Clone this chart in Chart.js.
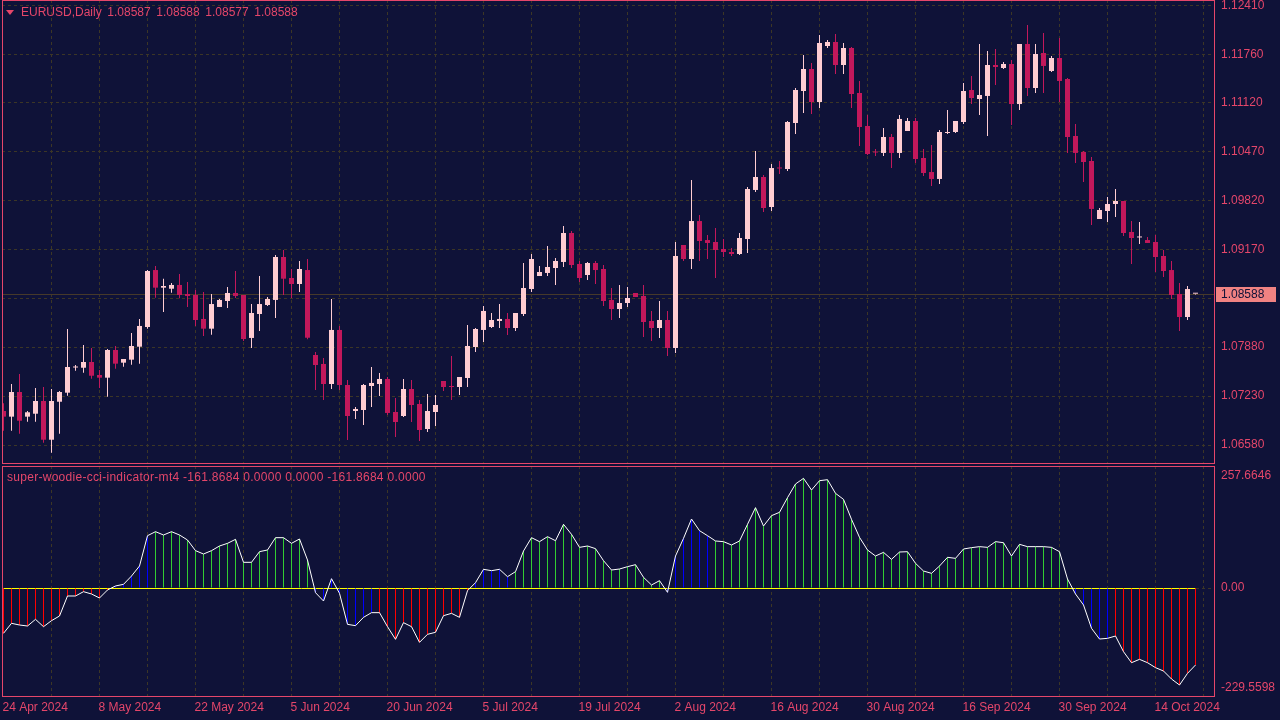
<!DOCTYPE html>
<html>
<head>
<meta charset="utf-8">
<script src="https://cdn.jsdelivr.net/npm/chart.js@4.4.1/dist/chart.umd.min.js"></script>
<style>
  body { margin: 0; width: 1280px; height: 720px; overflow: hidden; position: relative; background: #0f1238;
         font-family: "Liberation Sans", Arial, sans-serif; }
  canvas { position: absolute; left: 0; }
  #main { top: 0; }
  #cci { top: 466px; }
  .txt { position: absolute; color: #e5466a; font-size: 12px; line-height: 14px; white-space: pre; }
  #tri { position: absolute; left: 6px; top: 10px; width: 0; height: 0;
         border-left: 4.5px solid transparent; border-right: 4.5px solid transparent; border-top: 5px solid #e5466a; }
</style>
</head>
<body>
<canvas id="main" width="1280" height="465"></canvas>
<canvas id="cci" width="1280" height="254"></canvas>
<div id="tri"></div>
<div class="txt" style="left:21px;top:5px;word-spacing:2.3px">EURUSD,Daily 1.08587 1.08588 1.08577 1.08588</div>
<div class="txt" style="left:7px;top:470px;letter-spacing:0.28px">super-woodie-cci-indicator-mt4 -161.8684 0.0000 0.0000 -161.8684 0.0000</div>
<script>
// EURUSD daily candles + Woodie CCI sub-window, MT4 look

// ---- data ----
const dateLabels = ['24 Apr 2024', '8 May 2024', '22 May 2024', '5 Jun 2024', '20 Jun 2024', '5 Jul 2024',
  '19 Jul 2024', '2 Aug 2024', '16 Aug 2024', '30 Aug 2024', '16 Sep 2024', '30 Sep 2024', '14 Oct 2024'];
const labelEvery = 12;   // one date label every 12 bars
const gridEvery = 6;     // vertical grid every 6 bars

const opens = [
  1.07031, 1.06956, 1.07283, 1.06956, 1.06995, 1.07164, 1.06650, 1.07154, 1.07274, 1.07608,
  1.07605, 1.07681, 1.07509, 1.07473, 1.07840, 1.07672, 1.07712, 1.07884, 1.08145, 1.08901,
  1.08667, 1.08653, 1.08703, 1.08583, 1.08570, 1.08252, 1.08123, 1.08411, 1.08490, 1.08596,
  1.08570, 1.08000, 1.08318, 1.08437, 1.08504, 1.09074, 1.08795, 1.08716, 1.08901, 1.07774,
  1.07655, 1.07389, 1.08106, 1.07376, 1.07031, 1.07044, 1.07363, 1.07389, 1.07456, 1.07018,
  1.06965, 1.07323, 1.07124, 1.06792, 1.07018, 1.07429, 1.07363, 1.07349, 1.07469, 1.07880,
  1.08106, 1.08145, 1.08225, 1.08252, 1.08132, 1.08318, 1.08649, 1.08822, 1.08862, 1.08928,
  1.09008, 1.09392, 1.08981, 1.08835, 1.08994, 1.08915, 1.08504, 1.08384, 1.08464, 1.08596,
  1.08557, 1.08225, 1.08132, 1.08238, 1.07867, 1.09233, 1.09047, 1.09551, 1.09299, 1.09273,
  1.09180, 1.09140, 1.09114, 1.09313, 1.09963, 1.10135, 1.09737, 1.10261, 1.10241, 1.10851,
  1.11276, 1.11568, 1.11130, 1.11873, 1.11926, 1.11621, 1.11846, 1.11249, 1.10812, 1.10473,
  1.10454, 1.10666, 1.10454, 1.10745, 1.10878, 1.10387, 1.10201, 1.10109, 1.10719, 1.10732,
  1.10865, 1.11289, 1.11170, 1.11210, 1.11621, 1.11581, 1.11634, 1.11103, 1.11899, 1.11316,
  1.11780, 1.11541, 1.11714, 1.11435, 1.10679, 1.10467, 1.10347, 1.09578, 1.09684, 1.09777,
  1.09817, 1.09406, 1.09333, 1.09299, 1.09273, 1.09087, 1.08901, 1.08583, 1.08278, 1.08587
];
const highs = [
  1.07133, 1.07389, 1.07522, 1.07031, 1.07336, 1.07349, 1.07323, 1.07296, 1.08119, 1.07641,
  1.07907, 1.07867, 1.07575, 1.07854, 1.07893, 1.07721, 1.08066, 1.08252, 1.08901, 1.08955,
  1.08786, 1.08729, 1.08848, 1.08742, 1.08636, 1.08610, 1.08583, 1.08517, 1.08676, 1.08888,
  1.08570, 1.08450, 1.08822, 1.08543, 1.09100, 1.09167, 1.08915, 1.09021, 1.09047, 1.07814,
  1.07734, 1.08517, 1.08159, 1.07442, 1.07084, 1.07389, 1.07615, 1.07535, 1.07482, 1.07204,
  1.07456, 1.07442, 1.07177, 1.07257, 1.07243, 1.07429, 1.07761, 1.07482, 1.08172, 1.08132,
  1.08424, 1.08331, 1.08450, 1.08331, 1.08331, 1.08994, 1.09114, 1.08955, 1.09220, 1.09061,
  1.09485, 1.09419, 1.09021, 1.09008, 1.09021, 1.08968, 1.08663, 1.08703, 1.08676, 1.08596,
  1.08703, 1.08358, 1.08490, 1.08358, 1.09273, 1.09233, 1.10095, 1.09631, 1.09366, 1.09459,
  1.09313, 1.09193, 1.09392, 1.10002, 1.10480, 1.10162, 1.10308, 1.10347, 1.10878, 1.11316,
  1.11753, 1.11647, 1.12019, 1.11952, 1.12032, 1.11913, 1.11860, 1.11409, 1.10958, 1.10507,
  1.10785, 1.10706, 1.10958, 1.10918, 1.10918, 1.10507, 1.10560, 1.10759, 1.11024, 1.10878,
  1.11382, 1.11475, 1.11899, 1.11807, 1.11833, 1.11661, 1.11687, 1.11899, 1.12151, 1.11899,
  1.12045, 1.11740, 1.11979, 1.11448, 1.10838, 1.10480, 1.10400, 1.09724, 1.09870, 1.09976,
  1.09817, 1.09551, 1.09538, 1.09339, 1.09366, 1.09167, 1.09021, 1.08729, 1.08689, 1.08588
];
const lows = [
  1.06770, 1.06770, 1.06730, 1.06889, 1.06889, 1.06611, 1.06478, 1.06730, 1.07234, 1.07566,
  1.07539, 1.07460, 1.07336, 1.07221, 1.07592, 1.07619, 1.07645, 1.07659, 1.08123, 1.08534,
  1.08344, 1.08600, 1.08526, 1.08411, 1.08159, 1.08026, 1.08043, 1.08411, 1.08397, 1.08530,
  1.07960, 1.07867, 1.08092, 1.08424, 1.08265, 1.08570, 1.08530, 1.08610, 1.07982, 1.07310,
  1.07177, 1.07323, 1.07310, 1.06646, 1.06925, 1.06845, 1.07084, 1.07230, 1.06978, 1.06686,
  1.06952, 1.06885, 1.06633, 1.06753, 1.06832, 1.07296, 1.07177, 1.07243, 1.07349, 1.07814,
  1.07946, 1.08132, 1.08132, 1.08039, 1.08092, 1.08291, 1.08610, 1.08822, 1.08822, 1.08703,
  1.08941, 1.08928, 1.08742, 1.08769, 1.08716, 1.08424, 1.08238, 1.08265, 1.08411, 1.08543,
  1.08013, 1.07960, 1.08000, 1.07761, 1.07800, 1.09021, 1.08915, 1.09021, 1.09047, 1.08795,
  1.09074, 1.09087, 1.09100, 1.09127, 1.09936, 1.09671, 1.09684, 1.10175, 1.10215, 1.10706,
  1.10984, 1.10971, 1.11050, 1.11846, 1.11501, 1.11501, 1.11050, 1.10546, 1.10427, 1.10414,
  1.10414, 1.10254, 1.10387, 1.10745, 1.10321, 1.10148, 1.10016, 1.10042, 1.10706, 1.10719,
  1.10838, 1.11103, 1.10958, 1.10679, 1.11356, 1.11568, 1.10825, 1.11024, 1.11210, 1.11249,
  1.11249, 1.11528, 1.11130, 1.10454, 1.10321, 1.10069, 1.09498, 1.09578, 1.09538, 1.09605,
  1.09353, 1.08981, 1.09246, 1.09260, 1.08875, 1.08809, 1.08517, 1.08092, 1.08238, 1.08577
];
const closes = [
  1.06956, 1.07283, 1.06902, 1.07014, 1.07164, 1.06650, 1.07164, 1.07283, 1.07615, 1.07612,
  1.07681, 1.07499, 1.07473, 1.07840, 1.07659, 1.07721, 1.07893, 1.08159, 1.08888, 1.08667,
  1.08689, 1.08703, 1.08570, 1.08557, 1.08238, 1.08123, 1.08450, 1.08504, 1.08596, 1.08557,
  1.07986, 1.08331, 1.08450, 1.08517, 1.09074, 1.08786, 1.08716, 1.08915, 1.08003, 1.07641,
  1.07389, 1.08106, 1.07376, 1.06965, 1.07058, 1.07376, 1.07403, 1.07456, 1.07005, 1.06885,
  1.07323, 1.07111, 1.06779, 1.07031, 1.07111, 1.07349, 1.07349, 1.07482, 1.07893, 1.08119,
  1.08358, 1.08238, 1.08252, 1.08132, 1.08331, 1.08663, 1.09047, 1.08875, 1.08941, 1.09021,
  1.09392, 1.08968, 1.08795, 1.08994, 1.08901, 1.08490, 1.08384, 1.08464, 1.08530, 1.08543,
  1.08212, 1.08132, 1.08238, 1.07867, 1.09087, 1.09047, 1.09551, 1.09286, 1.09260, 1.09167,
  1.09140, 1.09114, 1.09326, 1.09976, 1.10135, 1.09724, 1.10254, 1.10248, 1.10865, 1.11289,
  1.11568, 1.11130, 1.11913, 1.11926, 1.11621, 1.11846, 1.11236, 1.10798, 1.10440, 1.10460,
  1.10666, 1.10454, 1.10905, 1.10878, 1.10374, 1.10188, 1.10109, 1.10732, 1.10732, 1.10878,
  1.11276, 1.11183, 1.11223, 1.11621, 1.11594, 1.11634, 1.11103, 1.11899, 1.11316, 1.11767,
  1.11608, 1.11714, 1.11409, 1.10666, 1.10454, 1.10334, 1.09711, 1.09697, 1.09777, 1.09817,
  1.09392, 1.09326, 1.09339, 1.09260, 1.09074, 1.08888, 1.08570, 1.08278, 1.08649, 1.08588
];
const cci = [
  -103.9, -80.9, -84.8, -87.1, -71.8, -88.6, -74.8, -64.1, -18.1, -18.1,
  -8.2, -13.5, -22.7, -4.3, 4.9, 8.7, 27.8, 50.8, 120.5, 129.7,
  122.1, 129.7, 122.1, 110.6, 86.1, 78.4, 86.1, 96.8, 102.9, 112.1,
  59.3, 59.3, 83.8, 87.6, 115.9, 115.9, 102.9, 112.9, 64.6, -10.5,
  -29.6, 21.7, -12.0, -83.3, -86.3, -67.2, -56.4, -56.4, -88.6, -117.7,
  -79.4, -88.6, -124.6, -106.2, -101.6, -63.3, -58.0, -67.2, -5.9, 12.5,
  43.2, 40.1, 43.2, 26.3, 37.8, 85.3, 115.9, 106.8, 118.2, 109.0,
  146.6, 123.6, 93.7, 96.8, 90.7, 63.1, 41.6, 43.9, 49.3, 53.9,
  24.8, 7.2, 17.1, -9.7, 73.8, 114.4, 158.8, 132.0, 120.5, 108.3,
  106.8, 99.1, 108.3, 146.6, 184.9, 142.7, 166.5, 174.2, 207.9, 239.3,
  252.3, 225.5, 246.9, 249.2, 217.8, 204.0, 158.1, 116.7, 87.6, 73.8,
  82.2, 66.1, 83.0, 83.7, 57.0, 39.3, 34.0, 50.8, 70.8, 68.4,
  89.9, 93.0, 95.3, 93.7, 106.8, 104.4, 73.8, 100.6, 95.3, 95.3,
  95.3, 93.7, 83.7, 20.9, -13.5, -38.8, -92.4, -117.0, -115.4, -110.1,
  -146.1, -171.4, -163.7, -171.4, -182.8, -190.5, -208.9, -222.7, -195.9, -176.7
];
const priceTicks = [1.0658, 1.0723, 1.0788, 1.0853, 1.0917, 1.0982, 1.1047, 1.1112, 1.1176, 1.1241];
const cciTicks = [257.6646, 0, -229.5598];
const cciTickText = ['257.6646', '0.00', '-229.5598'];

// ---- look ----
const BG = '#0f1238';
const FG = '#e5466a';
const GRID = '#3c3626';
const BULL = '#ffcdd2';
const BEAR = '#c2185b';
const PRICE_LINE = '#46392a';
const FONT = { family: 'Liberation Sans', size: 12 };

// visible window: 8px per bar, bar 0 centred at x=3.5
const X_MIN = -0.1875, X_MAX = 151.3125;
const PRICE_MIN = 1.06328, PRICE_MAX = 1.12483;
const CCI_MIN = -250.24, CCI_MAX = 280.65;

Chart.defaults.font.family = FONT.family;
Chart.defaults.font.size = FONT.size;
Chart.defaults.color = FG;

const idx = opens.map((_, i) => i);
const candleColors = idx.map(i => closes[i] >= opens[i] ? BULL : BEAR);
const bodies = idx.map(i => ({ x: i, y: [opens[i], closes[i]] }));
const wicks = idx.map(i => ({ x: i, y: [lows[i], highs[i]] }));

const gridBars = [];
for (let b = 0; b <= 150; b += gridEvery) gridBars.push(b);

// woodie colouring: 6+ bars on one side -> green/red, otherwise blue
let run = 6, prevSign = cci[0] >= 0 ? 1 : -1;
const histColors = cci.map((v, i) => {
  const s = v >= 0 ? 1 : -1;
  if (i > 0) run = s === prevSign ? run + 1 : 1;
  prevSign = s;
  if (run >= 6) return s > 0 ? '#32cd32' : '#ff0000';
  return '#0000ff';
});

function noPad(scale) {
  scale.paddingTop = 0; scale.paddingBottom = 0;
  scale.paddingLeft = 0; scale.paddingRight = 0;
}

function xScale(withLabels) {
  return {
    type: 'linear', min: X_MIN, max: X_MAX, offset: false,
    afterBuildTicks: s => { s.ticks = gridBars.map(v => ({ value: v })); },
    afterFit: s => { s.height = withLabels ? 23 : 0; noPad(s); },
    ticks: {
      display: withLabels, autoSkip: false, maxRotation: 0, minRotation: 0,
      align: 'start', labelOffset: -1, padding: 3, color: FG, font: FONT,
      callback: v => (v % labelEvery === 0 ? dateLabels[v / labelEvery] : '')
    },
    grid: {
      offset: false, drawTicks: false, lineWidth: 1,
      color: c => (c.tick && c.tick.value === 0 ? 'rgba(0,0,0,0)' : GRID)
    },
    border: { display: false, dash: [3, 3] }
  };
}

function frame(chart) {
  const { ctx, chartArea: a } = chart;
  ctx.save();
  ctx.strokeStyle = FG;
  ctx.lineWidth = 1;
  ctx.strokeRect(a.left + 0.5, a.top + 0.5, a.right - a.left, a.bottom - a.top - 1);
  ctx.restore();
}

// price line + price tag on the axis
const mainDecor = {
  id: 'mainDecor',
  beforeDatasetsDraw(chart) {
    const { ctx, chartArea: a, scales: { y } } = chart;
    const py = Math.round(y.getPixelForValue(closes[closes.length - 1])) + 0.5;
    ctx.save();
    ctx.strokeStyle = PRICE_LINE;
    ctx.lineWidth = 1;
    ctx.beginPath();
    ctx.moveTo(a.left, py);
    ctx.lineTo(a.right, py);
    ctx.stroke();
    ctx.restore();
  },
  afterDraw(chart) {
    const { ctx, chartArea: a, scales: { y } } = chart;
    frame(chart);
    const last = closes[closes.length - 1];
    const py = Math.round(y.getPixelForValue(last));
    ctx.save();
    ctx.fillStyle = '#f08282';
    ctx.fillRect(a.right + 2, py - 7, 60, 15);
    ctx.fillStyle = BG;
    ctx.font = '12px "Liberation Sans"';
    ctx.textBaseline = 'middle';
    ctx.fillText(last.toFixed(5), a.right + 7, py + 1);
    ctx.restore();
  }
};

new Chart(document.getElementById('main'), {
  type: 'bar',
  data: {
    datasets: [
      { data: bodies, backgroundColor: candleColors, barThickness: 5, minBarLength: 1,
        grouped: false, inflateAmount: 0, borderWidth: 0 },
      { data: wicks, backgroundColor: candleColors, barThickness: 1,
        grouped: false, inflateAmount: 0, borderWidth: 0 }
    ]
  },
  options: {
    responsive: false, animation: false, devicePixelRatio: 1,
    layout: { padding: { left: 2, top: 0, right: 0, bottom: 1 } },
    plugins: { legend: { display: false }, tooltip: { enabled: false } },
    scales: {
      x: xScale(false),
      y: {
        position: 'right', min: PRICE_MIN, max: PRICE_MAX,
        afterBuildTicks: s => { s.ticks = priceTicks.map(v => ({ value: v })); },
        afterFit: s => { s.width = 66; noPad(s); },
        ticks: { padding: 7, color: FG, font: FONT, callback: v => v.toFixed(5) },
        grid: { drawTicks: false, color: GRID, lineWidth: 1 },
        border: { display: false, dash: [3, 3] }
      }
    }
  },
  plugins: [mainDecor]
});

// zero level + frame for the indicator window
const cciDecor = {
  id: 'cciDecor',
  beforeDatasetsDraw(chart) {
    const { ctx, scales: { x, y } } = chart;
    const py = Math.round(y.getPixelForValue(0)) + 0.5;
    ctx.save();
    ctx.strokeStyle = '#ffff00';
    ctx.lineWidth = 1;
    ctx.beginPath();
    ctx.moveTo(x.getPixelForValue(0), py);
    ctx.lineTo(x.getPixelForValue(cci.length - 1), py);
    ctx.stroke();
    ctx.restore();
  },
  afterDraw(chart) { frame(chart); }
};

new Chart(document.getElementById('cci'), {
  type: 'bar',
  data: {
    datasets: [
      { type: 'line', data: idx.map(i => ({ x: i, y: cci[i] })), borderColor: '#ffffff',
        borderWidth: 1, pointRadius: 0, tension: 0, fill: false },
      { data: idx.map(i => ({ x: i, y: cci[i] })), backgroundColor: histColors, barThickness: 1,
        grouped: false, inflateAmount: 0, borderWidth: 0 }
    ]
  },
  options: {
    responsive: false, animation: false, devicePixelRatio: 1,
    layout: { padding: { left: 2, top: 0, right: 0, bottom: 0 } },
    plugins: { legend: { display: false }, tooltip: { enabled: false } },
    scales: {
      x: xScale(true),
      y: {
        position: 'right', min: CCI_MIN, max: CCI_MAX,
        afterBuildTicks: s => { s.ticks = cciTicks.map(v => ({ value: v })); },
        afterFit: s => { s.width = 66; noPad(s); },
        ticks: { padding: 7, color: FG, font: FONT, callback: (v, i) => cciTickText[i] },
        grid: { drawTicks: false, lineWidth: 1,
                color: c => (c.tick && c.tick.value === 0 ? GRID : 'rgba(0,0,0,0)') },
        border: { display: false, dash: [3, 3] }
      }
    }
  },
  plugins: [cciDecor]
});
</script>
</body>
</html>
